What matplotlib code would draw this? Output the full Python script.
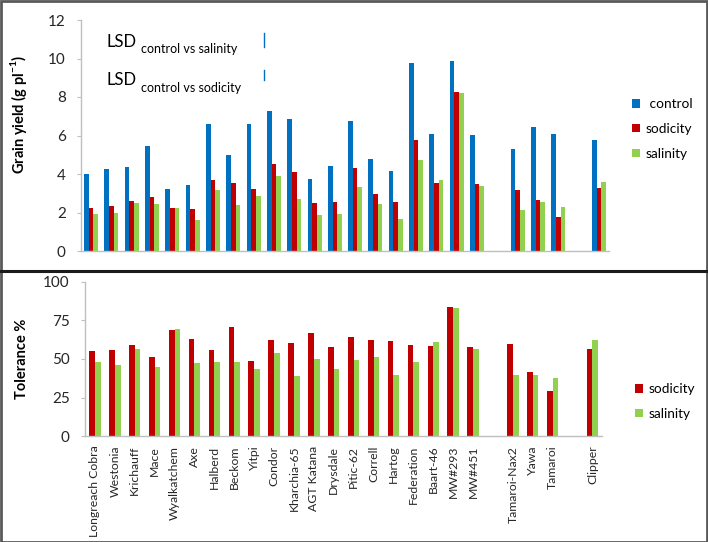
import numpy as np
import matplotlib
matplotlib.use("Agg")
import matplotlib.pyplot as plt
from matplotlib.lines import Line2D
from matplotlib.patches import Rectangle

plt.rcParams['font.family'] = ['Lato', 'DejaVu Sans']
plt.rcParams['mathtext.fontset'] = 'custom'
plt.rcParams['mathtext.rm'] = 'Lato'
plt.rcParams['mathtext.bf'] = 'Lato:bold'

nan = np.nan
categories = ['Longreach Cobra', 'Westonia', 'Krichauff', 'Mace', 'Wyalkatchem', 'Axe',
              'Halberd', 'Beckom', 'Yitpi', 'Condor', 'Kharchia-65', 'AGT Katana',
              'Drysdale', 'Pitic-62', 'Correll', 'Hartog', 'Federation', 'Baart-46',
              'MW#293', 'MW#451', '', 'Tamaroi-Nax2', 'Yawa', 'Tamaroi', '', 'Clipper']

control = [4.02, 4.26, 4.38, 5.45, 3.24, 3.41, 6.58, 4.97, 6.58, 7.26, 6.87, 3.75,
           4.43, 6.75, 4.80, 4.16, 9.77, 6.08, 9.89, 6.04, nan, 5.30, 6.43, 6.06, nan, 5.75]
sodicity = [2.23, 2.35, 2.58, 2.79, 2.22, 2.17, 3.69, 3.52, 3.20, 4.54, 4.10, 2.47,
            2.57, 4.33, 2.98, 2.56, 5.75, 3.55, 8.26, 3.48, nan, 3.15, 2.65, 1.77, nan, 3.26]
salinity = [1.92, 1.99, 2.48, 2.46, 2.25, 1.61, 3.17, 2.39, 2.86, 3.90, 2.70, 1.88,
            1.93, 3.35, 2.46, 1.66, 4.71, 3.69, 8.22, 3.39, nan, 2.11, 2.56, 2.27, nan, 3.58]

tol_sodicity = [55.4, 55.6, 59.1, 51.1, 68.8, 63.0, 55.8, 70.6, 48.7, 62.3, 60.2, 66.7,
                58.0, 64.1, 62.1, 61.5, 58.9, 58.2, 83.5, 57.6, nan, 59.5, 41.3, 29.0, nan, 56.7]
tol_salinity = [47.8, 46.3, 56.5, 45.0, 69.7, 47.2, 47.8, 47.8, 43.3, 53.7, 39.2, 50.0,
                43.3, 49.4, 51.3, 39.6, 48.3, 60.8, 83.3, 56.3, nan, 39.6, 39.6, 37.7, nan, 62.3]

lsd_labels = ['control vs salinity', 'control vs sodicity']
lsd_values = [0.70, 0.52]
lsd_top = [11.31, 9.40]

c_blue = '#0070C0'
c_red = '#C00000'
c_green = '#92D050'
axis_col = '#BFBFBF'
text_col = '#262626'

W, H = 708, 542
fig = plt.figure(figsize=(W / 100, H / 100), dpi=100)

def fx(px):
    return px / W

def fy(py):
    return 1 - py / H

ax1 = fig.add_axes([fx(81), fy(251), fx(609) - fx(81), fy(20) - fy(251)])
ax2 = fig.add_axes([fx(85), fy(436), fx(602.4) - fx(85), fy(282) - fy(436)])

x = np.arange(len(categories))

bw = 0.23
ax1.bar(x - bw, control, bw, color=c_blue, label=' control', linewidth=0)
ax1.bar(x, sodicity, bw, color=c_red, label='sodicity', linewidth=0)
ax1.bar(x + bw, salinity, bw, color=c_green, label='salinity', linewidth=0)
ax1.set_xlim(-0.5, len(categories) - 0.5)
ax1.set_ylim(0, 12)
ax1.set_yticks(np.arange(0, 13, 2))
ax1.set_xticks([])

bw2 = 0.286
ax2.bar(x - bw2 / 2, tol_sodicity, bw2, color=c_red, label='sodicity', linewidth=0)
ax2.bar(x + bw2 / 2, tol_salinity, bw2, color=c_green, label='salinity', linewidth=0)
ax2.set_xlim(-0.5, len(categories) - 0.5)
ax2.set_ylim(0, 100)
ax2.set_yticks([0, 25, 50, 75, 100])
ax2.set_xticks(x)
ax2.set_xticklabels(categories, rotation=90, fontsize=8.8, color=text_col)
ax2.tick_params(axis='x', length=0, pad=7)

for ax in (ax1, ax2):
    for s in ('top', 'right'):
        ax.spines[s].set_visible(False)
    for s in ('left', 'bottom'):
        ax.spines[s].set_color(axis_col)
        ax.spines[s].set_linewidth(1.0)
    ax.tick_params(axis='y', labelsize=11, colors=text_col, length=3, color=axis_col, pad=8)
    ax.patch.set_alpha(0)

ax1.set_ylabel(r'Grain yield (g pl$^{\mathbf{-1}}$)', fontsize=10.5, fontweight='bold', color='black')
ax1.yaxis.set_label_coords(-0.098, 0.59)
ax2.set_ylabel('Tolerance %', fontsize=10.5, fontweight='bold', color='black')
ax2.yaxis.set_label_coords(-0.108, 0.5)

# LSD annotations
for lab, val, top, ty in zip(lsd_labels, lsd_values, lsd_top, [46.7, 85]):
    ax1.plot([8.5, 8.5], [top - val, top], color=c_blue, linewidth=1.0)
    fig.text(fx(106.7), fy(ty), 'LSD', fontsize=12, color='black', va='baseline')
    fig.text(fx(140.7), fy(ty + 6.5), lab, fontsize=9, color='black', va='baseline')

leg1 = ax1.legend(loc='upper left', bbox_to_anchor=(fx(632), fy(98)),
                  bbox_transform=fig.transFigure, frameon=False, fontsize=9.8,
                  handlelength=0.6, handleheight=0.6, handletextpad=0.4,
                  labelspacing=0.95, borderpad=0, borderaxespad=0)
leg2 = ax2.legend(loc='upper left', bbox_to_anchor=(fx(635), fy(383)),
                  bbox_transform=fig.transFigure, frameon=False, fontsize=9.8,
                  handlelength=0.6, handleheight=0.6, handletextpad=0.4,
                  labelspacing=0.95, borderpad=0, borderaxespad=0)

# frame and divider
fig.add_artist(Rectangle((0.5 / W, 0.5 / H), 1 - 1.5 / W, 1 - 1.5 / H, transform=fig.transFigure,
                         fill=False, edgecolor='#595959', linewidth=2))
fig.add_artist(Line2D([0, 1], [fy(270.5), fy(270.5)], transform=fig.transFigure,
                      color='#1a1a1a', linewidth=2.2))

fig.savefig('out.png', dpi=100)
